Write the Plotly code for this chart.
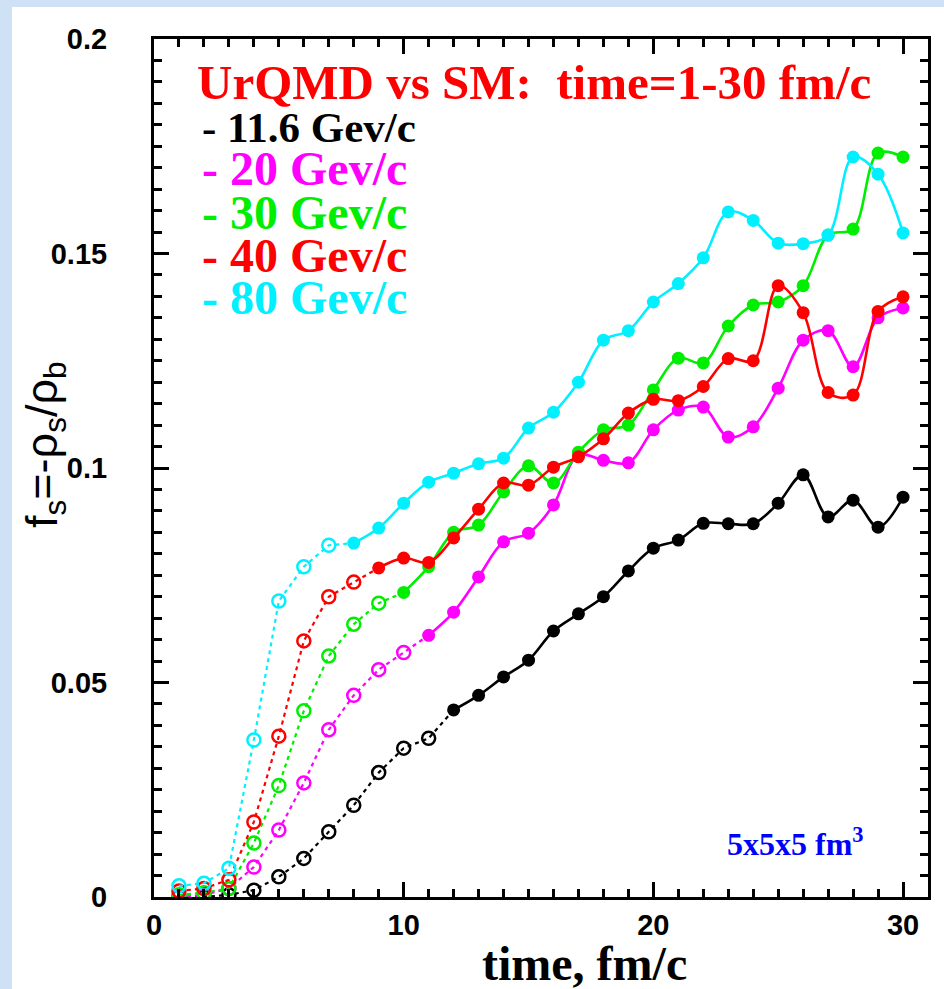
import plotly.graph_objects as go

# time steps, fm/c
time = list(range(1, 31))

# strangeness fraction f_s = -rho_s/rho_b for each beam momentum
f_116 = [0, 0, 0.0005, 0.0016, 0.0047, 0.009, 0.0152, 0.0214, 0.029, 0.0347,
         0.037, 0.0436, 0.047, 0.0513, 0.0552, 0.062, 0.066, 0.070, 0.076, 0.0813,
         0.0832, 0.0871, 0.087, 0.087, 0.0918, 0.0984, 0.0886, 0.0925, 0.0862, 0.0932]
f_20 = [0, 0.0005, 0.002, 0.007, 0.0156, 0.0266, 0.039, 0.047, 0.053, 0.057,
        0.061, 0.0664, 0.0746, 0.0828, 0.0848, 0.0914, 0.103, 0.1018, 0.1012, 0.1089,
        0.1135, 0.1142, 0.1072, 0.1096, 0.1186, 0.1298, 0.132, 0.1236, 0.135, 0.1373]
f_30 = [0.0005, 0.001, 0.002, 0.0126, 0.026, 0.0434, 0.0562, 0.0636, 0.0685, 0.071,
        0.077, 0.085, 0.0867, 0.0944, 0.1005, 0.0965, 0.1037, 0.1089, 0.110, 0.1182,
        0.1256, 0.1245, 0.1331, 0.138, 0.1387, 0.1425, 0.1543, 0.1557, 0.1734, 0.1725]
f_40 = [0.0014, 0.002, 0.004, 0.0175, 0.0375, 0.0597, 0.070, 0.0734, 0.0767, 0.079,
        0.078, 0.0837, 0.0904, 0.0965, 0.096, 0.1002, 0.1026, 0.1068, 0.1128, 0.116,
        0.1157, 0.119, 0.1255, 0.125, 0.1425, 0.1362, 0.1176, 0.117, 0.1365, 0.1399]
f_80 = [0.0026, 0.0032, 0.0067, 0.0366, 0.069, 0.077, 0.082, 0.0825, 0.086, 0.0918,
        0.0967, 0.0988, 0.101, 0.1023, 0.1093, 0.113, 0.120, 0.1298, 0.132, 0.1387,
        0.143, 0.149, 0.1597, 0.1577, 0.1524, 0.1523, 0.1543, 0.1725, 0.1685, 0.1548]

labels = ["11.6 Gev/c", "20 Gev/c", "30 Gev/c", "40 Gev/c", "80 Gev/c"]
colors = ["#000000", "#ff00ff", "#00ee00", "#ff0000", "#00f0ff"]
# number of early (UrQMD) time steps drawn with open markers
n_open = [11, 10, 9, 8, 7]
series = [f_116, f_20, f_30, f_40, f_80]

X_RANGE = [0, 31]
Y_RANGE = [0, 0.2]
x_major = [0, 10, 20, 30]
y_major = [0, 0.05, 0.1, 0.15, 0.2]
y_major_text = ["0", "0.05", "0.1", "0.15", "0.2"]
x_minor = list(range(0, 32))
y_minor = [round(i * 0.005, 4) for i in range(41)]

# plot-area geometry in pixels
W, H = 944, 989
L, R, T, B = 154, 928, 39, 897


def px(x):
    return (x - L) / (R - L)


def py(y):
    return (B - y) / (B - T)


fig = go.Figure()

for vals, col, k in zip(series, colors, n_open):
    # dashed early part with open circles, continuing to first filled point
    fig.add_trace(go.Scatter(
        x=time[:k + 1], y=vals[:k + 1], mode="lines",
        line=dict(color=col, width=2.2, dash="4px,4px"),
        hoverinfo="skip", showlegend=False))
    fig.add_trace(go.Scatter(
        x=time[:k], y=vals[:k], mode="markers",
        marker=dict(symbol="circle-open", size=13, color=col,
                    line=dict(color=col, width=2.5)),
        showlegend=False))
    # solid later part with filled circles
    fig.add_trace(go.Scatter(
        x=time[k:], y=vals[k:], mode="lines+markers",
        line=dict(color=col, width=2.6, shape="spline", smoothing=1.0),
        marker=dict(symbol="circle", size=13, color=col),
        showlegend=False))

tick_font = dict(family="Liberation Sans", size=29, color="black", weight="bold")
frame = dict(showline=True, linewidth=3, linecolor="black", mirror="ticks",
             ticks="inside", tickwidth=3, tickcolor="black", ticklen=15,
             showgrid=False, zeroline=False, tickfont=tick_font)
minor_style = dict(ticks="inside", ticklen=8, tickwidth=3, tickcolor="black")

fig.update_xaxes(range=X_RANGE, tickvals=x_major,
                 minor=dict(tickvals=x_minor, **minor_style), **frame)
fig.update_yaxes(range=Y_RANGE, tickvals=y_major, ticktext=y_major_text,
                 ticklabelstandoff=38,
                 minor=dict(tickvals=y_minor, **minor_style), **frame)

annotations = [
    dict(text="<b>UrQMD vs SM:\u00a0\u00a0time=1-30 fm/c</b>", x=px(195), y=py(82),
         xanchor="left", yanchor="middle",
         font=dict(family="Liberation Serif", size=49, color="#ff0000")),
]
line_y = [128, 169, 212, 255, 297]
line_size = [43, 48, 48, 48, 48]
for lab, col, yy, fs in zip(labels, colors, line_y, line_size):
    annotations.append(dict(
        text="<b>- " + lab + "</b>", x=px(200), y=py(yy),
        xanchor="left", yanchor="middle",
        font=dict(family="Liberation Serif", size=fs, color=col)))

annotations += [
    dict(text="<b>time, fm/c</b>", x=px(584), y=py(963),
         xanchor="center", yanchor="middle",
         font=dict(family="Liberation Serif", size=48, color="black")),
    dict(text="f<sub>s</sub>=-ρ<sub>s</sub>/ρ<sub>b</sub>", x=px(45), y=py(444),
         xanchor="center", yanchor="middle", textangle=-90,
         font=dict(family="Liberation Sans", size=45, color="black")),
    dict(text="<b>5x5x5 fm<sup>3</sup></b>", x=px(866), y=py(842),
         xanchor="right", yanchor="middle",
         font=dict(family="Liberation Serif", size=32, color="#0000ff")),
]
for a in annotations:
    a.update(xref="paper", yref="paper", showarrow=False)

# light-blue slide border strips along the left and top page edges
blue = "#cfe2f5"
shapes = [
    dict(type="rect", xref="paper", yref="paper", layer="below",
         x0=px(-5), x1=px(12), y0=py(H + 5), y1=py(-5),
         fillcolor=blue, line=dict(width=0)),
    dict(type="rect", xref="paper", yref="paper", layer="below",
         x0=px(-5), x1=px(W + 5), y0=py(7), y1=py(-5),
         fillcolor=blue, line=dict(width=0)),
]

fig.update_layout(
    width=W, height=H,
    margin=dict(l=L, r=W - R, t=T, b=H - B),
    paper_bgcolor="white", plot_bgcolor="white",
    annotations=annotations, shapes=shapes,
)

fig.write_html("out.html")
